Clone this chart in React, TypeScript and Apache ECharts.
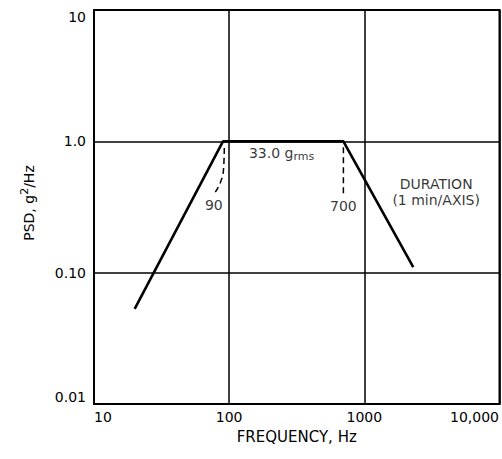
import React, { useEffect, useRef } from "react";
import * as echarts from "echarts";

// PSD spectrum (frequency Hz, PSD g^2/Hz)
const spectrum: [number, number][] = [
  [20, 0.053],
  [90, 1.0],
  [700, 1.0],
  [2300, 0.11],
];

// dashed leader lines to the breakpoint labels
const leader90: [number, number][] = [
  [92, 0.89],
  [91, 0.63],
  [87, 0.5],
  [79, 0.41],
];
const leader700: [number, number][] = [
  [700, 0.9],
  [700, 0.39],
];

// annotation texts at data positions
const annotations: { value: [number, number]; text: string; align: string }[] = [
  { value: [77, 0.325], text: "90", align: "center" },
  { value: [700, 0.32], text: "700", align: "center" },
  { value: [140, 0.82], text: "33.0 {g|g}{s|rms}", align: "left" },
  { value: [3400, 0.473], text: "DURATION", align: "center" },
  { value: [3400, 0.357], text: "(1 min/AXIS)", align: "center" },
];

const xTickValues = [10, 100, 1000, 10000];
const xTickLabels = ["10", "100", "1000", "10,000"];
const yTickValues = [0.01, 0.1, 1, 10];
const yTickLabels = ["0.01", "0.10", "1.0", "10"];

const FONT = "DejaVu Sans";

function indexFor(v: number, vals: number[]) {
  const e = Math.round(Math.log10(v));
  return vals.findIndex((t) => Math.round(Math.log10(t)) === e);
}

export default function App() {
  const ref = useRef<HTMLDivElement>(null);
  useEffect(() => {
    if (!ref.current) return;
    document.body.style.margin = "0";
    const chart = echarts.init(ref.current, undefined, { renderer: "svg" });
    chart.setOption({
      animation: false,
      backgroundColor: "#fff",
      textStyle: { fontFamily: FONT, color: "#000" },
      grid: {
        left: 94,
        top: 10,
        right: 2,
        bottom: 55,
        show: true,
        borderColor: "#000",
        borderWidth: 2,
      },
      xAxis: {
        type: "log",
        logBase: 10,
        min: 10,
        max: 10000,
        name: "FREQUENCY, Hz",
        nameLocation: "middle",
        nameGap: 25,
        nameTextStyle: { fontFamily: FONT, fontSize: 15, color: "#000" },
        axisLine: { show: true, lineStyle: { color: "#000", width: 2 } },
        axisTick: { show: false },
        minorTick: { show: false },
        splitLine: { show: true, lineStyle: { color: "#000", width: 1.5 } },
        axisLabel: {
          fontFamily: FONT,
          fontSize: 14,
          color: "#000",
          margin: 6,
          formatter: (v: number) => {
            const i = indexFor(v, xTickValues);
            if (i < 0) return "";
            if (i === 0) return "{first|" + xTickLabels[i] + "}";
            if (i === xTickLabels.length - 1) return "{last|" + xTickLabels[i] + "}";
            return xTickLabels[i];
          },
          rich: {
            first: { fontFamily: FONT, fontSize: 14, color: "#000", padding: [0, 0, 0, 18] },
            last: { fontFamily: FONT, fontSize: 14, color: "#000", padding: [0, 50, 0, 0] },
          },
        },
      },
      yAxis: {
        type: "log",
        logBase: 10,
        min: 0.01,
        max: 10,
        axisLine: { show: true, lineStyle: { color: "#000", width: 2 } },
        axisTick: { show: false },
        minorTick: { show: false },
        splitLine: { show: true, lineStyle: { color: "#000", width: 1.5 } },
        axisLabel: {
          fontFamily: FONT,
          fontSize: 14,
          color: "#000",
          margin: 8,
          verticalAlignMaxLabel: "top",
          verticalAlignMinLabel: "bottom",
          formatter: (v: number) => {
            const i = indexFor(v, yTickValues);
            return i >= 0 ? yTickLabels[i] : "";
          },
        },
      },
      graphic: [
        {
          type: "text",
          x: 29,
          y: 203,
          rotation: Math.PI / 2,
          style: {
            text: "PSD, g{sup|2}/Hz",
            fontFamily: FONT,
            fontSize: 14,
            fill: "#000",
            align: "center",
            verticalAlign: "middle",
            lineHeight: 20,
            rich: {
              sup: { fontFamily: FONT, fontSize: 11, lineHeight: 10, verticalAlign: "top", fill: "#000" },
            },
          },
        },
      ],
      series: [
        {
          type: "line",
          data: spectrum,
          symbol: "none",
          lineStyle: { color: "#000", width: 2.6 },
          z: 5,
        },
        {
          type: "line",
          data: leader90,
          symbol: "none",
          smooth: true,
          lineStyle: { color: "#000", width: 1.5, type: [6, 4] },
        },
        {
          type: "line",
          data: leader700,
          symbol: "none",
          lineStyle: { color: "#000", width: 1.5, type: [6, 4] },
        },
        {
          type: "scatter",
          symbolSize: 0,
          silent: true,
          data: annotations.map((a) => ({
            value: a.value,
            label: {
              show: true,
              position: "inside",
              align: a.align,
              verticalAlign: "middle",
              formatter: a.text,
              fontFamily: FONT,
              fontSize: 14,
              color: "#000",
              lineHeight: 18,
              rich: {
                g: { fontFamily: FONT, fontSize: 14, color: "#000", lineHeight: 18 },
                s: { fontFamily: FONT, fontSize: 11, color: "#000", lineHeight: 10, verticalAlign: "bottom" },
              },
            },
          })),
        },
      ],
    });
    return () => chart.dispose();
  }, []);
  return <div ref={ref} style={{ width: 502, height: 459 }} />;
}
